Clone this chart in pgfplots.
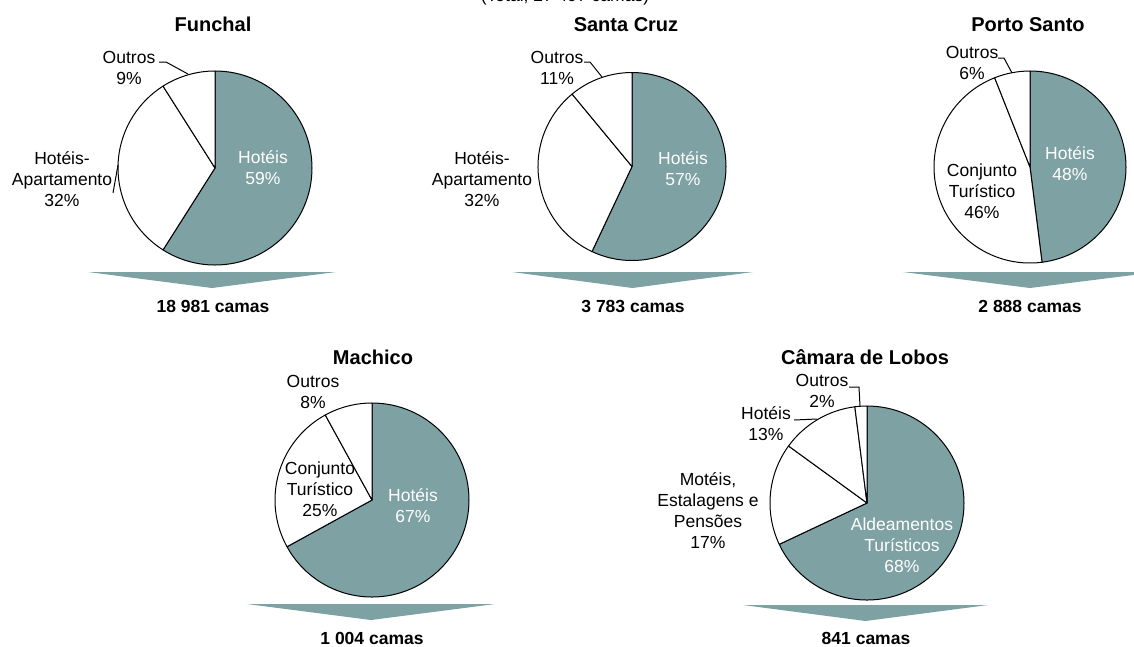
\documentclass[border=0pt]{standalone}
\usepackage{pgfplots}
\pgfplotsset{compat=1.18}
\usepackage{fontspec}
\setmainfont{Liberation Sans}
\definecolor{tealpie}{RGB}{126,161,163}
\newcommand{\slice}[6]{%
  \filldraw[fill=#6, draw=black, line width=0.6pt, line join=round]
    (axis cs:#1,#2) -- ++({90-3.6*#4}:{#3*0.6pt})
    arc[start angle={90-3.6*#4}, end angle={90-3.6*#5}, radius={#3*0.6pt}] -- cycle;}
\newcommand{\lbl}[3]{\node[align=center, font=\fontsize{10.5}{12.6}\selectfont, text=#3, inner sep=0pt] at (axis cs:#1) {#2};}
\newcommand{\ttl}[2]{\node[font=\fontsize{12}{14}\selectfont\bfseries, inner sep=0pt] at (axis cs:#1) {#2};}
\newcommand{\tot}[2]{\node[font=\fontsize{10.5}{12.6}\selectfont\bfseries, inner sep=0pt] at (axis cs:#1) {#2};}
\newcommand{\arr}[4]{\fill[tealpie] (axis cs:#1,#3) -- (axis cs:#2,#3) -- (axis cs:{(#1+#2)/2},{#3+16}) -- cycle;}
\begin{document}
\begin{tikzpicture}
\begin{axis}[name=ax, at={(0,0)}, anchor=south west, scale only axis,
  width=680.4pt, height=387.6pt, xmin=0, xmax=1134, ymin=0, ymax=646,
  y dir=reverse, hide axis, clip=false]
\addplot[draw=none] coordinates {(0,0)};
% subtitle (cut at top, as in the original)
\node[anchor=base, font=\fontsize{10.5}{12.6}\selectfont, inner sep=0pt] at (axis cs:565,1.5) {(Total, 27 497 camas)};
% ---------- Funchal ----------
\ttl{213,24}{Funchal}
\slice{215}{168}{97}{0}{59}{tealpie}
\slice{215}{168}{97}{59}{91}{white}
\slice{215}{168}{97}{91}{100}{white}
\lbl{263,168}{Hotéis\\59\%}{white}
\lbl{62,179}{Hotéis-\\Apartamento\\32\%}{black}
\lbl{129,68}{Outros\\9\%}{black}
\draw[line width=0.6pt] (axis cs:159,62) -- (axis cs:166,62) -- (axis cs:188,74);
\draw[line width=0.6pt] (axis cs:113,193) -- (axis cs:118,165);
\arr{88}{336}{272}{}
\tot{213,306}{18 981 camas}
% ---------- Santa Cruz ----------
\ttl{626,25}{Santa Cruz}
\slice{632}{166.5}{94}{0}{57}{tealpie}
\slice{632}{166.5}{94}{57}{89}{white}
\slice{632}{166.5}{94}{89}{100}{white}
\lbl{683,169}{Hotéis\\57\%}{white}
\lbl{482,179}{Hotéis-\\Apartamento\\32\%}{black}
\lbl{557,68}{Outros\\11\%}{black}
\draw[line width=0.6pt] (axis cs:584,62) -- (axis cs:590,62) -- (axis cs:602,77);
\arr{512}{753}{272}{}
\tot{633,306}{3 783 camas}
% ---------- Porto Santo ----------
\ttl{1028,25}{Porto Santo}
\slice{1030}{167}{96}{0}{48}{tealpie}
\slice{1030}{167}{96}{48}{94}{white}
\slice{1030}{167}{96}{94}{100}{white}
\lbl{1070,164}{Hotéis\\48\%}{white}
\lbl{982,191}{Conjunto\\Turístico\\46\%}{black}
\lbl{972,63}{Outros\\6\%}{black}
\draw[line width=0.6pt] (axis cs:998,58) -- (axis cs:1004,58) -- (axis cs:1012,73);
\arr{903}{1157}{272}{}
\tot{1030,306}{2 888 camas}
% ---------- Machico ----------
\ttl{373,357}{Machico}
\slice{372}{500}{97}{0}{67}{tealpie}
\slice{372}{500}{97}{67}{92}{white}
\slice{372}{500}{97}{92}{100}{white}
\lbl{413,506}{Hotéis\\67\%}{white}
\lbl{320,489}{Conjunto\\Turístico\\25\%}{black}
\lbl{313,392}{Outros\\8\%}{black}
\arr{247}{495}{604}{}
\tot{372,638}{1 004 camas}
% ---------- Camara de Lobos ----------
\ttl{865,357}{Câmara de Lobos}
\slice{867}{503}{97}{0}{68}{tealpie}
\slice{867}{503}{97}{68}{85}{white}
\slice{867}{503}{97}{85}{98}{white}
\slice{867}{503}{97}{98}{100}{white}
\lbl{902,545}{Aldeamentos\\Turísticos\\68\%}{white}
\lbl{708,511}{Motéis,\\Estalagens e\\Pensões\\17\%}{black}
\lbl{766,424}{Hotéis\\13\%}{black}
\lbl{822,391}{Outros\\2\%}{black}
\draw[line width=0.6pt] (axis cs:849,387) -- (axis cs:859,387) -- (axis cs:860,406);
\draw[line width=0.6pt] (axis cs:794,420) -- (axis cs:817,419);
\arr{743}{988}{605}{}
\tot{866,638}{841 camas}
\end{axis}
\pgfresetboundingbox
\useasboundingbox (ax.south west) rectangle (ax.north east);
\end{tikzpicture}
\end{document}
